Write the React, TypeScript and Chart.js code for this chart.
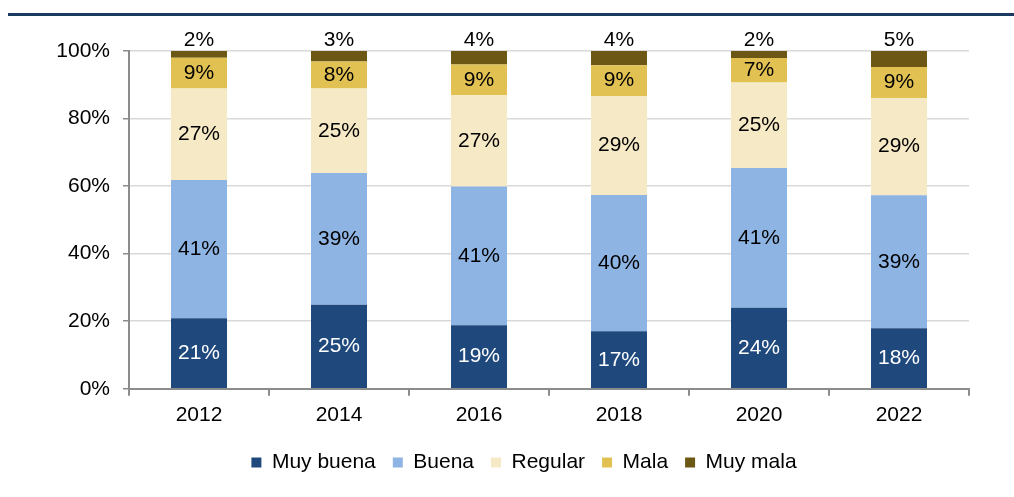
import React, { useEffect, useRef } from "react";
import { Chart, registerables } from "chart.js";

Chart.register(...registerables);

const categories = ["2012", "2014", "2016", "2018", "2020", "2022"];
const seriesNames = ["Muy buena", "Buena", "Regular", "Mala", "Muy mala"];
const muyBuena = [20.9, 24.9, 18.8, 17.0, 24.0, 17.9];
const buena = [40.9, 39.0, 41.1, 40.4, 41.4, 39.4];
const regular = [27.1, 25.0, 27.0, 29.3, 25.3, 28.8];
const mala = [9.1, 8.0, 9.1, 9.1, 7.2, 9.2];
const muyMala = [2.0, 3.1, 4.0, 4.2, 2.1, 4.7];
const yTicks = [0, 20, 40, 60, 80, 100];

const seriesValues = [muyBuena, buena, regular, mala, muyMala];
const seriesColors = ["#1F497D", "#8EB4E3", "#F6E9C6", "#E2C153", "#6C5814"];

const FONT = "'Liberation Sans', Arial, sans-serif";
const FS = 21;

const labelPlugin = {
  id: "segLabels",
  afterLayout(chart: any) {
    if (chart.legend) {
      chart.legend.left += 39;
      chart.legend.right += 39;
    }
  },
  afterDatasetsDraw(chart: any) {
    const ctx = chart.ctx;
    const last = chart.data.datasets.length - 1;
    ctx.save();
    ctx.font = `${FS}px ${FONT}`;
    ctx.textAlign = "center";
    ctx.textBaseline = "middle";
    chart.data.datasets.forEach((ds: any, di: number) => {
      const meta = chart.getDatasetMeta(di);
      meta.data.forEach((bar: any, i: number) => {
        const v = ds.data[i];
        const p = bar.getProps(["x", "y", "base"], true);
        ctx.fillStyle = di === 0 ? "#ffffff" : "#000000";
        const ty = di === last ? p.y - 11 : (p.y + p.base) / 2;
        ctx.fillText(Math.round(v) + "%", p.x, ty);
      });
    });
    ctx.restore();
  },
};

export default function App() {
  const ref = useRef<HTMLCanvasElement | null>(null);

  useEffect(() => {
    if (!ref.current) return;
    Chart.defaults.font.family = FONT;
    const chart = new Chart(ref.current, {
      type: "bar",
      data: {
        labels: categories,
        datasets: seriesNames.map((name, i) => ({
          label: name,
          data: seriesValues[i],
          backgroundColor: seriesColors[i],
          borderWidth: 0,
          barPercentage: 0.4,
          categoryPercentage: 1,
        })),
      },
      options: {
        animation: false,
        responsive: false,
        maintainAspectRatio: false,
        layout: { padding: { left: 1, right: 45, top: 51, bottom: 14 } },
        plugins: {
          legend: {
            position: "bottom",
            labels: {
              boxWidth: 10,
              boxHeight: 10,
              padding: 17,
              color: "#000",
              font: { size: FS, family: FONT },
            },
          },
          tooltip: { enabled: false },
        },
        scales: {
          x: {
            stacked: true,
            grid: {
              drawOnChartArea: false,
              offset: true,
              color: "#8c8c8c",
              lineWidth: 2,
              tickLength: 7,
            },
            border: { color: "#8c8c8c", width: 2 },
            ticks: { color: "#000", font: { size: FS, family: FONT }, padding: 7 },
          },
          y: {
            stacked: true,
            min: 0,
            max: 100,
            afterFit: (scale: any) => {
              scale.width = 128;
            },
            afterBuildTicks: (scale: any) => {
              scale.ticks = yTicks.map((v) => ({ value: v }));
            },
            grid: {
              color: "#d9d9d9",
              lineWidth: 1.5,
              tickColor: "#8c8c8c",
              tickLength: 6,
            },
            border: { color: "#8c8c8c", width: 2 },
            ticks: {
              color: "#000",
              font: { size: FS, family: FONT },
              padding: 13,
              callback: (v: any) => v + "%",
            },
          },
        },
      },
      plugins: [labelPlugin],
    });
    return () => chart.destroy();
  }, []);

  return (
    <div style={{ position: "absolute", left: 0, top: 0, width: 1014, height: 497, background: "#fff" }}>
      <div style={{ position: "absolute", left: 8, top: 13, width: 1006, height: 3, background: "#1B3961" }} />
      <canvas ref={ref} width={1014} height={497} style={{ position: "absolute", left: 0, top: 0 }} />
    </div>
  );
}
